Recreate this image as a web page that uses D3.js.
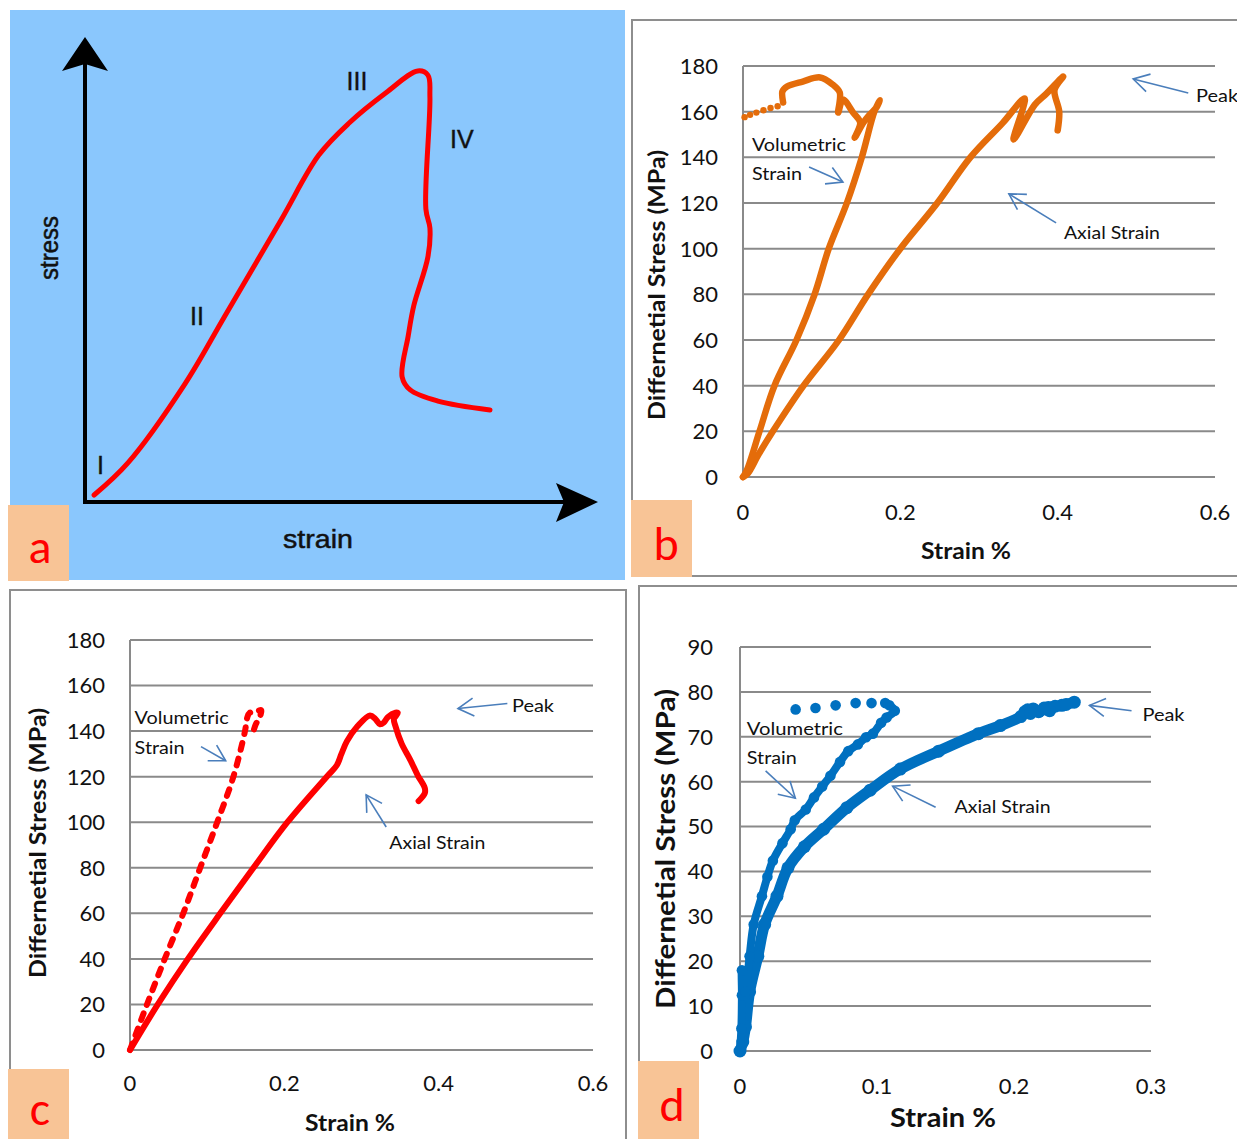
<!DOCTYPE html>
<html>
<head>
<meta charset="utf-8">
<script src="https://cdn.jsdelivr.net/npm/d3@7"></script>
<style>
  html, body { margin: 0; padding: 0; background: #fff; }
  svg { display: block; }
</style>
</head>
<body>
<svg id="fig" width="1237" height="1139"></svg>
<script>
// ---------------- DATA ----------------
// Panel a : schematic stress-strain curve (arbitrary units 0..100)
const aCurve = [[1.8,1.5],[8.5,8.4],[19.8,25.4],[27.7,40],[38.8,60.6],[46.3,74.6],[52.3,81.5],[59.6,88],
  [65.9,92.7],[67.9,91.8],[68.3,87.1],[67.5,63],[68.3,58.9],[67.9,52.7],[65.1,42.2],[64,35.7],[62.8,26.9],
  [64.4,24.1],[69.9,21.7],[80.2,19.8]];
const aStageLabels = ["I","II","III","IV"];
const aStagePos = [[2.4,6],[20.8,38.1],[51.8,88.6],[72.3,76.1]];

// Shared tick labels
const stressTicks180 = [0,20,40,60,80,100,120,140,160,180];
const stressTicks90 = [0,10,20,30,40,50,60,70,80,90];
const strainTicks06 = [0,0.2,0.4,0.6];
const strainTickLabels06 = ["0","0.2","0.4","0.6"];
const strainTicks03 = [0,0.1,0.2,0.3];
const strainTickLabels03 = ["0","0.1","0.2","0.3"];

// Panel b (orange)
const axialB = [[0,0],[0.006,1.5],[0.02,10],[0.038,20],[0.077,40],[0.122,60],[0.159,80],
  [0.2,100],[0.247,120],[0.289,140],[0.33,155],[0.358,165.8],[0.344,147.8],[0.371,163.1],[0.386,168],
  [0.407,175.4],[0.396,169.5],[0.402,160],[0.4,151.8]];
const volB = [[0,0],[0.005,3],[0.021,20],[0.040,40],[0.068,60],[0.091,80],[0.109,100],[0.132,120],
  [0.151,140],[0.167,160],[0.174,165],[0.170,162],[0.161,158.7],[0.153,155.2],[0.142,148.6],
  [0.149,155.2],[0.140,159.6],[0.127,165.3],[0.121,159.6],[0.123,168.4],[0.114,171.9],[0.098,175],
  [0.076,173.2],[0.056,171],[0.05,168.8],[0.051,164]];
const volSparseB = [[0.044,162.4],[0.035,161.6],[0.026,160.6],[0.017,159.6],[0.009,158.6],[0.002,157.6]];

// Panel c (red)
const axialC = [[0,0],[0.036,20],[0.075,40],[0.117,60],[0.16,80],[0.204,100],[0.255,120],
  [0.268,125],[0.274,130],[0.281,135.5],[0.295,142.2],[0.311,146.9],[0.318,145.3],[0.324,143],[0.329,143.8],
  [0.334,146.1],[0.344,148.1],[0.347,148],[0.342,145.3],[0.344,142.2],[0.352,134.5],[0.363,127.5],[0.373,120.5],
  [0.382,115],[0.382,112.7],[0.374,109.3]];
const volC = [[0,0],[0.022,20],[0.045,40],[0.069,60],[0.091,80],[0.113,100],[0.134,120],
  [0.149,140],[0.152,146],[0.155,148],[0.163,148.5],[0.17,149.2],[0.168,146],[0.163,143],[0.16,140]];

// Panel d (blue)
const axialD = [[0,0],[0.002,2],[0.004,5.4],[0.007,13.2],[0.013,21.1],[0.018,28.2],[0.027,34.5],[0.035,40.8],
  [0.047,45.5],[0.061,49.4],[0.078,54.2],[0.095,58.1],[0.117,62.8],[0.145,66.8],[0.174,70.7],[0.19,72.5],
  [0.205,74.5],[0.21,76],[0.218,75.6],[0.225,76.5],[0.235,77],[0.244,77.7]];
const axialBlobD = [[0.208,75.6],[0.214,76.2],[0.222,76.4],[0.23,76.8],[0.238,77.2],[0.212,75.2],[0.226,75.8]];
const volD = [[0,0],[0.001,5],[0.0014,12.4],[0.0014,18],[0.004,13.2],[0.007,21.1],[0.01,28.2],[0.016,34.5],
  [0.02,38.8],[0.024,42.4],[0.031,46.3],[0.037,49.4],[0.04,51.4],[0.048,53.8],[0.054,56.5],[0.06,58.9],
  [0.066,61.3],[0.073,64.4],[0.079,66.8],[0.086,68.3],[0.092,69.9],[0.097,70.7],[0.103,73.1],[0.107,74.3],
  [0.113,75.8],[0.109,77],[0.106,77.5]];
const volSparseD = [[0.096,77.5],[0.0844,77.5],[0.0698,77],[0.0551,76.4],[0.0406,76.1]];

// Annotations (data units): [text, x, y]; arrows: [x1,y1,x2,y2] tail -> head
const annB = [["Volumetric",0.0114,145.4],["Strain",0.0114,132.7],["Axial Strain",0.408,106.9],["Peak",0.576,166.9]];
const arrB = [[0.084,135.8,0.127,129.2],[0.398,111.3,0.338,124],[0.566,168.2,0.496,174.3]];
const annC = [["Volumetric",0.006,146.1],["Strain",0.006,132.9],["Axial Strain",0.336,90.9],["Peak",0.495,151.2]];
const arrC = [[0.092,133.2,0.124,127],[0.332,97.9,0.306,112],[0.489,152.1,0.425,149.9]];
const annD = [["Volumetric",0.005,71.9],["Strain",0.005,65.4],["Axial Strain",0.1566,54.4],["Peak",0.2938,74.9]];
const arrD = [[0.0187,62.4,0.0404,56.3],[0.1428,54.3,0.1114,59],[0.2858,75.8,0.2551,77]];

// ---------------- DRAWING ----------------
const svg = d3.select("#fig");
const FONT = "Lato, 'Open Sans', sans-serif";
const ARROW = "#4A7EBB";
const GRID = "#8a8a8a";

svg.append("rect").attr("width",1237).attr("height",1139).attr("fill","#fff");

function openArrow(g, x1, y1, x2, y2) {
  g.append("line").attr("x1",x1).attr("y1",y1).attr("x2",x2).attr("y2",y2)
    .attr("stroke",ARROW).attr("stroke-width",1.6);
  const ang = Math.atan2(y1-y2, x1-x2), L = 18, da = 30*Math.PI/180;
  const p = d3.path();
  p.moveTo(x2 + L*Math.cos(ang-da), y2 + L*Math.sin(ang-da));
  p.lineTo(x2, y2);
  p.lineTo(x2 + L*Math.cos(ang+da), y2 + L*Math.sin(ang+da));
  g.append("path").attr("d",p.toString()).attr("fill","none").attr("stroke",ARROW).attr("stroke-width",1.6);
}

function labelBox(x, y, w, h, letter, tx, ty) {
  svg.append("rect").attr("x",x).attr("y",y).attr("width",w).attr("height",h).attr("fill","#F8C496");
  svg.append("text").attr("x",tx).attr("y",ty).attr("text-anchor","middle")
    .attr("font-family","Calibri, Carlito, "+FONT).attr("font-size",48).attr("fill","#FF0000").text(letter);
}

// ---- Panel a ----
(function(){
  const g = svg.append("g");
  g.append("rect").attr("x",10).attr("y",10).attr("width",615).attr("height",570).attr("fill","#8AC7FD");
  const x = d3.scaleLinear().domain([0,100]).range([85,590]);
  const y = d3.scaleLinear().domain([0,100]).range([502,37]);
  g.append("line").attr("x1",x(0)).attr("y1",y(0)+2).attr("x2",x(0)).attr("y2",y(100)+26)
    .attr("stroke","#000").attr("stroke-width",4);
  g.append("line").attr("x1",x(0)-2).attr("y1",y(0)).attr("x2",x(100)-26).attr("y2",y(0))
    .attr("stroke","#000").attr("stroke-width",4);
  const tipV = [x(0), y(100)], tipH = [x(100)+8, y(0)];
  g.append("path").attr("d",`M${tipV[0]},${tipV[1]} L${tipV[0]+23},${tipV[1]+34} L${tipV[0]},${tipV[1]+27} L${tipV[0]-23},${tipV[1]+34} Z`).attr("fill","#000");
  g.append("path").attr("d",`M${tipH[0]},${tipH[1]} L${tipH[0]-42},${tipH[1]-19} L${tipH[0]-34},${tipH[1]} L${tipH[0]-42},${tipH[1]+20} Z`).attr("fill","#000");
  g.append("path").datum(aCurve)
    .attr("d", d3.line().x(d=>x(d[0])).y(d=>y(d[1])).curve(d3.curveCatmullRom.alpha(0.5)))
    .attr("fill","none").attr("stroke","#FF0000").attr("stroke-width",5).attr("stroke-linecap","round").attr("stroke-linejoin","round");
  const AF = "'Liberation Sans', Arial, sans-serif";
  aStageLabels.forEach((t,i)=>{
    g.append("text").attr("x",x(aStagePos[i][0])).attr("y",y(aStagePos[i][1]))
      .attr("font-family",AF).attr("font-size",25).attr("fill","#111").attr("stroke","#111").attr("stroke-width",0.4).text(t);
  });
  g.append("text").attr("transform","translate(58,248) rotate(-90)").attr("text-anchor","middle")
    .attr("font-family",AF).attr("font-size",25).attr("fill","#111").attr("stroke","#111").attr("stroke-width",0.5)
    .attr("textLength",64).attr("lengthAdjust","spacingAndGlyphs").text("stress");
  g.append("text").attr("x",318).attr("y",548).attr("text-anchor","middle")
    .attr("font-family",AF).attr("font-size",26).attr("fill","#111").attr("stroke","#111").attr("stroke-width",0.5)
    .attr("textLength",70).attr("lengthAdjust","spacingAndGlyphs").text("strain");
  labelBox(8,505,61,76,"a",40,563);
})();

// ---- generic chart panel ----
function panel(cfg) {
  const g = svg.append("g");
  g.append("path").attr("d",cfg.frame).attr("fill","none").attr("stroke","#8e8e8e").attr("stroke-width",2);
  const x = d3.scaleLinear().domain(cfg.xDomain).range([cfg.left, cfg.right]);
  const y = d3.scaleLinear().domain(cfg.yDomain).range([cfg.bottom, cfg.top]);
  g.selectAll(".grid").data(cfg.yTicks).enter().append("line")
    .attr("x1",x.range()[0]).attr("x2",x.range()[1]).attr("y1",d=>y(d)).attr("y2",d=>y(d))
    .attr("stroke",GRID).attr("stroke-width",2);
  g.append("line").attr("x1",x(0)).attr("x2",x(0)).attr("y1",y.range()[0]).attr("y2",y.range()[1])
    .attr("stroke",GRID).attr("stroke-width",2);
  g.selectAll(".yt").data(cfg.yTicks).enter().append("text")
    .attr("x",cfg.left - cfg.yLabelGap).attr("y",d=>y(d)).attr("dy","0.36em").attr("text-anchor","end")
    .attr("font-family",FONT).attr("font-size",22).attr("fill","#111").text(d=>String(d));
  g.selectAll(".xt").data(cfg.xTicks).enter().append("text")
    .attr("x",d=>x(d)).attr("y",cfg.bottom + cfg.xLabelGap).attr("dy","0.36em").attr("text-anchor","middle")
    .attr("font-family",FONT).attr("font-size",22).attr("fill","#111").text((d,i)=>cfg.xTickLabels[i]);
  g.append("text").attr("x",cfg.xTitle[0]).attr("y",cfg.xTitle[1]).attr("dy","0.36em").attr("text-anchor","middle")
    .attr("font-family",FONT).attr("font-weight","bold").attr("font-size",cfg.titleSize).attr("fill","#111")
    .attr("textLength",cfg.xTitleLen).attr("lengthAdjust","spacingAndGlyphs").text("Strain %");
  g.append("text").attr("transform",`translate(${cfg.yTitle[0]},${cfg.yTitle[1]}) rotate(-90)`).attr("dy","0.36em")
    .attr("text-anchor","middle").attr("font-family",FONT).attr("font-weight","bold").attr("font-size",cfg.titleSize)
    .attr("fill","#111").attr("textLength",cfg.yTitleLen).attr("lengthAdjust","spacingAndGlyphs")
    .text("Differnetial Stress (MPa)");
  return {g,x,y};
}

function annotate(p, texts, arrows, lens) {
  texts.forEach((t,i)=>{
    p.g.append("text").attr("x",p.x(t[1])).attr("y",p.y(t[2])).attr("dy","0.36em")
      .attr("font-family",FONT).attr("font-size",18).attr("fill","#111")
      .attr("textLength",lens[i]).attr("lengthAdjust","spacingAndGlyphs").text(t[0]);
  });
  arrows.forEach(a=>openArrow(p.g, p.x(a[0]), p.y(a[1]), p.x(a[2]), p.y(a[3])));
}

const line = (p, curve)=>d3.line().x(d=>p.x(d[0])).y(d=>p.y(d[1])).curve(curve || d3.curveLinear);
const smooth = d3.curveCatmullRom.alpha(0.5);

// ---- Panel b ----
(function(){
  const p = panel({frame:"M632,577 L632,20 L1240,20 M632,576 L1240,576", left:743,right:1215,top:66,bottom:477,
    xDomain:[0,0.6], yDomain:[0,180], yTicks:stressTicks180, xTicks:strainTicks06, xTickLabels:strainTickLabels06,
    yLabelGap:25, xLabelGap:35, xTitle:[966,551], yTitle:[657,285], titleSize:23, xTitleLen:90, yTitleLen:270});
  const col = "#E46C0A";
  [axialB, volB].forEach(s=>{
    p.g.append("path").datum(s).attr("d",line(p, smooth)).attr("fill","none").attr("stroke",col)
      .attr("stroke-width",6.5).attr("stroke-linejoin","round").attr("stroke-linecap","round");
  });
  p.g.selectAll(".sb").data(volSparseB).enter().append("circle")
    .attr("cx",d=>p.x(d[0])).attr("cy",d=>p.y(d[1])).attr("r",3.2).attr("fill",col);
  annotate(p, annB, arrB, [94,50,96,42]);
  labelBox(631,500,61,77,"b",666,560);
})();

// ---- Panel c ----
(function(){
  const p = panel({frame:"M10,1145 L10,590 L626,590 L626,1145", left:130,right:593,top:640,bottom:1050,
    xDomain:[0,0.6], yDomain:[0,180], yTicks:stressTicks180, xTicks:strainTicks06, xTickLabels:strainTickLabels06,
    yLabelGap:25, xLabelGap:33, xTitle:[350,1123], yTitle:[38,843], titleSize:23, xTitleLen:90, yTitleLen:270});
  const col = "#FF0000";
  p.g.append("path").datum(axialC).attr("d",line(p, smooth)).attr("fill","none").attr("stroke",col)
    .attr("stroke-width",6).attr("stroke-linejoin","round").attr("stroke-linecap","round");
  p.g.append("path").datum(volC).attr("d",line(p, smooth)).attr("fill","none").attr("stroke",col)
    .attr("stroke-width",6).attr("stroke-linejoin","round").attr("stroke-linecap","round")
    .attr("stroke-dasharray","7,9");
  annotate(p, annC, arrC, [94,50,96,42]);
  labelBox(8,1069,61,72,"c",40,1125);
})();

// ---- Panel d ----
(function(){
  const p = panel({frame:"M639,1145 L639,586 L1240,586", left:740,right:1151,top:647,bottom:1051,
    xDomain:[0,0.3], yDomain:[0,90], yTicks:stressTicks90, xTicks:strainTicks03, xTickLabels:strainTickLabels03,
    yLabelGap:27, xLabelGap:35, xTitle:[943,1117], yTitle:[665,849], titleSize:27, xTitleLen:106, yTitleLen:320});
  const col = "#0070C0";
  p.g.append("path").datum(axialD).attr("d",line(p, smooth)).attr("fill","none").attr("stroke",col)
    .attr("stroke-width",11).attr("stroke-linejoin","round").attr("stroke-linecap","round");
  p.g.selectAll(".ad").data(axialD.concat(axialBlobD)).enter().append("circle")
    .attr("cx",d=>p.x(d[0])).attr("cy",d=>p.y(d[1])).attr("r",6.5).attr("fill",col);
  p.g.append("path").datum(volD).attr("d",line(p, smooth)).attr("fill","none").attr("stroke",col)
    .attr("stroke-width",8).attr("stroke-linejoin","round").attr("stroke-linecap","round");
  p.g.selectAll(".vd").data(volD.concat(volSparseD)).enter().append("circle")
    .attr("cx",d=>p.x(d[0])).attr("cy",d=>p.y(d[1])).attr("r",5.3).attr("fill",col);
  annotate(p, annD, arrD, [96,50,96,42]);
  labelBox(638,1061,61,80,"d",672,1121);
})();
</script>
</body>
</html>
